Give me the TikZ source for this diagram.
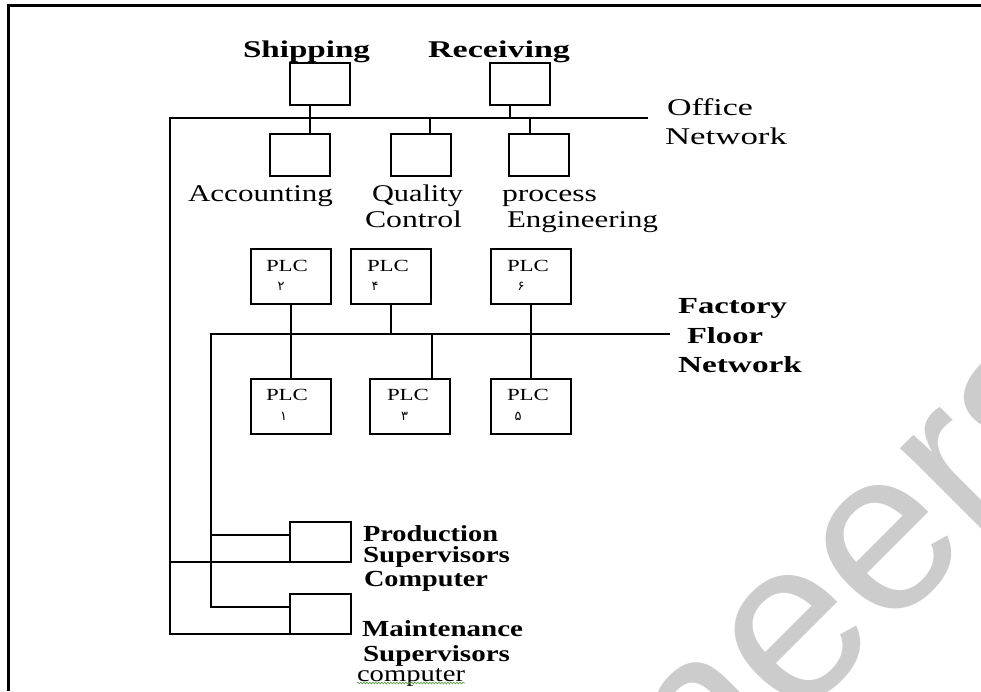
\documentclass[tikz,border=0pt]{standalone}
\usepackage{fontspec}
\usepackage{graphicx}
\setmainfont{Liberation Serif}
\newfontfamily\wmfont{Liberation Sans}
\newfontfamily\arabicfont[Script=Arabic]{DejaVu Sans}
\usetikzlibrary{decorations.pathmorphing}
\newcommand\fw[2]{\resizebox{#1pt}{\height}{#2}}
\definecolor{wmgray}{RGB}{204,204,204}
\definecolor{squig}{RGB}{90,160,70}
\tikzset{
  lab/.style={inner sep=0pt, outer sep=0pt, anchor=base west},
  toplab/.style={lab, font=\fontsize{24}{24}\selectfont},
  toplabb/.style={lab, font=\fontsize{24}{24}\selectfont\bfseries},
  botlab/.style={lab, font=\fontsize{23}{23}\selectfont\bfseries},
  plclab/.style={lab, font=\fontsize{17}{17}\selectfont},
  diglab/.style={inner sep=0pt, outer sep=0pt, anchor=base, font=\arabicfont\fontsize{13}{13}\selectfont},
  obox/.style={draw, line width=2pt, inner sep=0pt, outer sep=0pt, minimum width=60pt, minimum height=42pt},
  pbox/.style={draw, line width=2pt, inner sep=0pt, outer sep=0pt, minimum width=80pt, minimum height=55pt},
  sbox/.style={draw, line width=1.8pt, inner sep=0pt, outer sep=0pt, minimum width=61pt, minimum height=40pt},
  net/.style={line width=2.2pt},
}
\begin{document}
\begin{tikzpicture}[x=1pt, y=-1pt]
\useasboundingbox (0,0) rectangle (981,691);
\clip (0,0) rectangle (981,691);
\fill[white] (0,0) rectangle (981,691);

% watermark
\node[rotate=45, inner sep=0pt, outer sep=0pt, anchor=base west, text=wmgray,
      font=\wmfont\fontsize{230}{230}\selectfont] (wm) at (704.3,816.3) {neers};

% frame
\coordinate (frTR) at (981,5.5);
\coordinate (frTL) at (8.5,5.5);
\coordinate (frBL) at (8.5,691);
\draw[line width=2.5pt] (frTR) -- (frTL) -- (frBL);

% office boxes
\node[obox] (ship) at (320,83.5) {};
\node[obox] (recv) at (519.5,83.5) {};
\node[obox] (acc)  at (300,155) {};
\node[obox] (qual) at (421,155) {};
\node[obox] (proc) at (539,155) {};

% PLC boxes
\node[pbox] (p2) at (291,276.5) {};
\node[pbox] (p4) at (391,276.5) {};
\node[pbox] (p6) at (531,276.5) {};
\node[pbox] (p1) at (291,406) {};
\node[pbox] (p3) at (410,406) {};
\node[pbox] (p5) at (531,406) {};

% supervisor boxes
\node[sbox] (prod)  at (320.5,542) {};
\node[sbox] (maint) at (320.5,614) {};

% networks
\coordinate (onL) at (170,118);
\coordinate (onR) at (648,118);
\coordinate (ffL) at (211,334);
\coordinate (ffR) at (670,334);

\draw[net] (onR) -- (onL) |- (maint.south west);
\draw[net] (onL |- prod.south west) -- (prod.south west);
\draw[net] (ffR) -- (ffL) |- ([yshift=7pt]maint.west);
\draw[net] (ffL |- prod.west) ++(0,-7) -- ([yshift=7pt]prod.west);

% office connectors
\draw[net] ([xshift=-10pt]ship.south) -- ([xshift=10pt]acc.north);
\draw[net] ([xshift=-9.5pt]recv.south) -- ([xshift=-9.5pt]recv.south |- onR);
\draw[net] ([xshift=9pt]qual.north) -- ([xshift=9pt]qual.north |- onR);
\draw[net] ([xshift=-9pt]proc.north) -- ([xshift=-9pt]proc.north |- onR);

% PLC connectors
\draw[net] (p2.south) -- (p1.north);
\draw[net] (p4.south) -- (p4.south |- ffR);
\draw[net] ([xshift=22pt]p3.north) -- ([xshift=22pt]p3.north |- ffR);
\draw[net] (p6.south) -- (p5.north);

% office labels
\node[toplabb] (tship) at (243,57) {\fw{127}{Shipping}};
\node[toplabb] (trecv) at (428,57) {\fw{142}{Receiving}};
\node[toplab] (tacc) at (188,201.5) {\fw{145}{Accounting}};
\node[toplab] (tqual1) at (372,201.5) {\fw{91}{Quality}};
\node[toplab] (tqual2) at (365,227.5) {\fw{97}{Control}};
\node[toplab] (tproc1) at (502,201.5) {\fw{95}{process}};
\node[toplab] (tproc2) at (507,227) {\fw{151}{Engineering}};
\node[toplab] (toff1) at (667,115.7) {\fw{86}{Office}};
\node[toplab] (toff2) at (665,144) {\fw{122}{Network}};

% factory labels
\node[botlab] (tfac1) at (678,313) {\fw{109}{Factory}};
\node[botlab] (tfac2) at (687,343) {\fw{76}{Floor}};
\node[botlab] (tfac3) at (678,372) {\fw{124}{Network}};

% PLC labels
\node[plclab] (lp2) at (266,271.5) {\fw{42}{PLC}};
\node[plclab] (lp4) at (367,271.5) {\fw{42}{PLC}};
\node[plclab] (lp6) at (507,271.5) {\fw{42}{PLC}};
\node[plclab] (lp1) at (266,400) {\fw{42}{PLC}};
\node[plclab] (lp3) at (387,400) {\fw{42}{PLC}};
\node[plclab] (lp5) at (507,400) {\fw{42}{PLC}};
\node[diglab] (dp2) at (281,290) {۲};
\node[diglab] (dp4) at (375,290) {۴};
\node[diglab] (dp6) at (521,290) {۶};
\node[diglab] (dp1) at (283.5,420) {۱};
\node[diglab] (dp3) at (404.5,420) {۳};
\node[diglab] (dp5) at (518,420) {۵};

% supervisor labels
\node[botlab] (tpr1) at (363,541.5) {\fw{135}{Production}};
\node[botlab] (tpr2) at (363,562) {\fw{147}{Supervisors}};
\node[botlab] (tpr3) at (364,586.5) {\fw{124}{Computer}};
\node[botlab] (tma1) at (362,636.5) {\fw{161}{Maintenance}};
\node[botlab] (tma2) at (363,661) {\fw{147}{Supervisors}};
\node[lab, font=\fontsize{23}{23}\selectfont] (tma3) at (357,681) {\fw{108}{computer}};
\draw[squig, line width=0.7pt, decorate, decoration={snake, amplitude=0.8pt, segment length=3pt}]
  ([yshift=-2pt]tma3.base west) -- ([yshift=-2pt]tma3.base east);
\end{tikzpicture}
\end{document}
